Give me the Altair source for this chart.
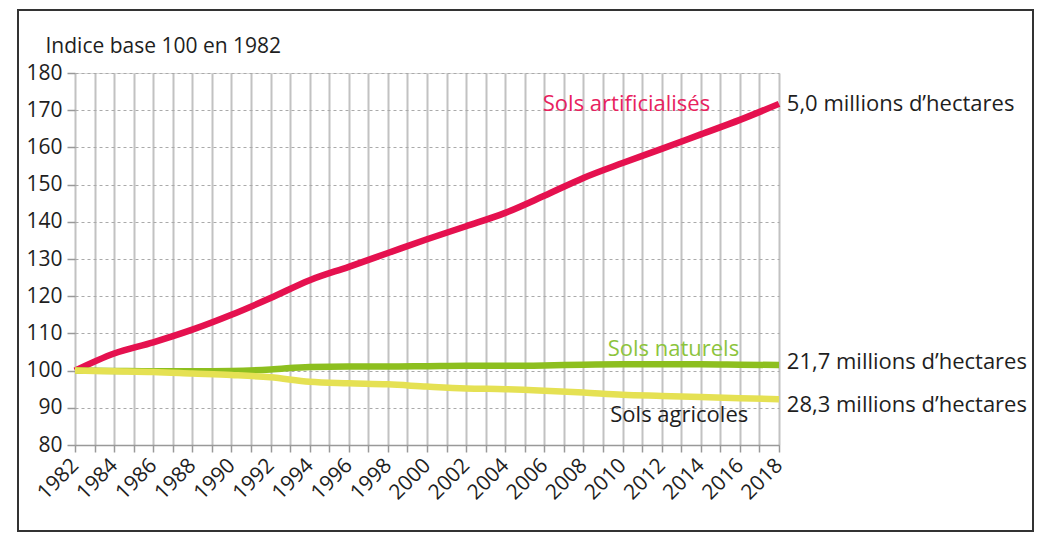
import altair as alt
import pandas as pd

years = [1982, 1984, 1986, 1988, 1990, 1992, 1994, 1996, 1998, 2000,
         2002, 2004, 2006, 2008, 2010, 2012, 2014, 2016, 2018]
artificialises = [100, 104.6, 107.6, 111.0, 115.0, 119.5, 124.3, 127.9, 131.6, 135.3,
                  138.8, 142.4, 147.0, 151.8, 155.8, 159.6, 163.5, 167.4, 171.7]
naturels = [100, 99.9, 99.8, 99.8, 99.9, 100.3, 101.0, 101.1, 101.1, 101.2,
            101.3, 101.3, 101.4, 101.6, 101.7, 101.7, 101.7, 101.6, 101.5]
agricoles = [100, 99.8, 99.6, 99.2, 98.8, 98.2, 97.0, 96.6, 96.3, 95.7,
             95.2, 95.0, 94.6, 94.1, 93.5, 93.2, 92.9, 92.6, 92.3]

series_names = ["Sols artificialisés", "Sols naturels", "Sols agricoles"]
series_colors = ["#E5114F", "#8DBF1F", "#E5E153"]

# annotations (text, year, value, colour, align)
ann_text = ["Sols artificialisés", "Sols naturels", "Sols agricoles",
            "5,0 millions d\u2019hectares", "21,7 millions d\u2019hectares", "28,3 millions d\u2019hectares"]
ann_year = [2010.2, 2012.6, 2012.9, 2018.4, 2018.4, 2018.4]
ann_value = [169.9, 104.0, 86.3, 169.9, 100.5, 89.0]
ann_color = ["#E8225E", "#8CC43C", "#1e1e1e", "#1e1e1e", "#1e1e1e", "#1e1e1e"]
ann_align = ["center", "center", "center", "left", "left", "left"]

rows = []
for name, vals in zip(series_names, [artificialises, naturels, agricoles]):
    for y, v in zip(years, vals):
        rows.append({"annee": y, "indice": v, "serie": name})
df = pd.DataFrame(rows)

ann = pd.DataFrame({"texte": ann_text, "annee": ann_year, "indice": ann_value,
                    "couleur": ann_color, "align": ann_align})

FONT = "Open Sans"
x_scale = alt.Scale(domain=[1982, 2018], nice=False, zero=False)
y_scale = alt.Scale(domain=[80, 180], nice=False, zero=False)

x_axis = alt.Axis(
    values=list(range(1982, 2019)),
    labelExpr="datum.value % 2 == 0 ? datum.value : ''",
    format="d",
    labelAngle=-45, labelAlign="right", labelBaseline="middle",
    labelPadding=10, labelFontSize=21, labelFont=FONT, labelColor="#1e1e1e",
    labelOverlap=False, labelBound=False, labelFlush=False,
    tickSize=7, tickColor="#999999", tickWidth=1.5,
    grid=True, gridColor="#c2c2c2", gridWidth=2, gridDash=[],
    domainColor="#999999", domainWidth=1.5,
    title=None,
)
y_axis = alt.Axis(
    values=list(range(80, 181, 10)),
    labelFontSize=21, labelFont=FONT, labelColor="#1e1e1e", labelPadding=5,
    labelOverlap=False, labelBound=False, labelFlush=False,
    tickSize=8, tickColor="#999999", tickWidth=1.5,
    grid=True, gridColor="#aaaaaa", gridDash=[3, 3], gridWidth=1,
    domain=False,
    title="Indice base 100 en 1982", titleAngle=0, titleAlign="left",
    titleBaseline="alphabetic", titleX=-30, titleY=-21,
    titleFontSize=21, titleFont=FONT, titleFontWeight="normal", titleColor="#1e1e1e",
)

lines = alt.Chart(df).mark_line(strokeWidth=6.5, interpolate="monotone", strokeCap="butt").encode(
    x=alt.X("annee:Q", scale=x_scale, axis=x_axis),
    y=alt.Y("indice:Q", scale=y_scale, axis=y_axis),
    color=alt.Color("serie:N", scale=alt.Scale(domain=series_names, range=series_colors), legend=None),
    order=alt.Order("annee:Q"),
    detail="serie:N",
)

def text_layer(sub, align):
    return alt.Chart(sub).mark_text(font=FONT, fontSize=22, align=align, baseline="alphabetic").encode(
        x=alt.X("annee:Q", scale=x_scale, axis=x_axis),
        y=alt.Y("indice:Q", scale=y_scale, axis=y_axis),
        text="texte:N",
        color=alt.Color("couleur:N", scale=None),
    )

txt_c = text_layer(ann[ann["align"] == "center"], "center")
txt_l = text_layer(ann[ann["align"] == "left"], "left")

frame = alt.Chart(pd.DataFrame({"k": [0]})).mark_rect(
    fill=None, stroke="#333333", strokeWidth=2
).encode(
    x=alt.value(-57), x2=alt.value(958), y=alt.value(-63), y2=alt.value(458)
)

chart = alt.layer(lines, txt_c, txt_l, frame).properties(
    width=704, height=372,
    autosize=alt.AutoSizeParams(type="none"),
    padding={"left": 67, "top": 65, "right": 259, "bottom": 87},
).configure_view(stroke="#999999", strokeWidth=1.5).configure(background="white")

chart.save("out.html", embed_options={"renderer": "svg", "actions": False})
